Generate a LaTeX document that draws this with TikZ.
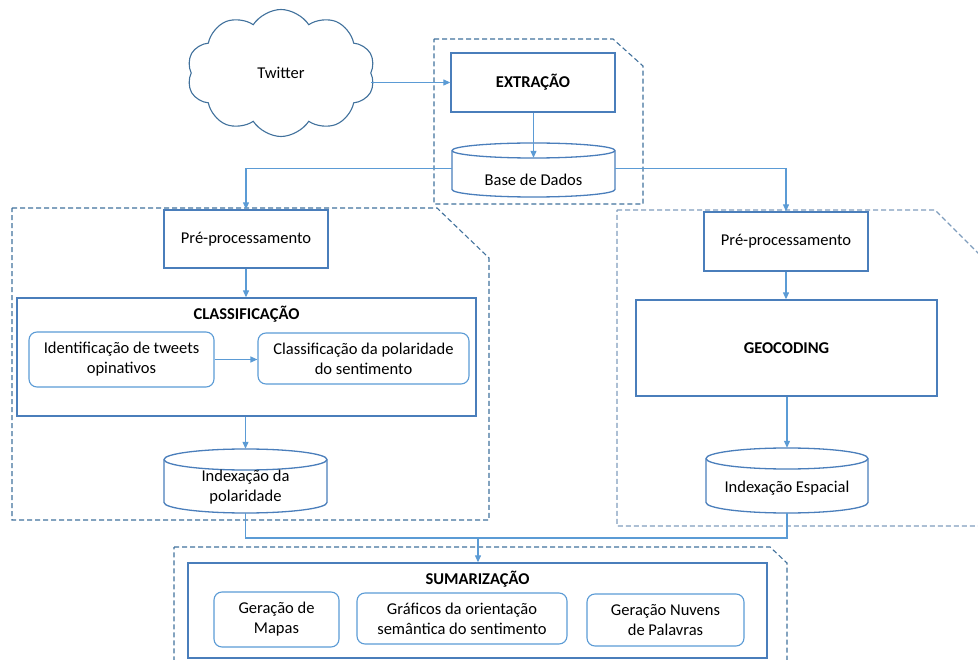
\documentclass[tikz,border=0pt]{standalone}
\usepackage{fontspec}
\setmainfont{Carlito}
\usetikzlibrary{shapes.symbols,arrows.meta}
\definecolor{boxc}{HTML}{4A7EBB}
\definecolor{arrc}{HTML}{5B9BD5}
\definecolor{dashc}{HTML}{41719C}
\definecolor{dashr}{HTML}{7F9DBD}
\definecolor{cloudc}{HTML}{41719C}
\tikzset{
 every node/.style={font=\fontsize{16.5}{20}\selectfont},
 box/.style={draw=boxc, line width=1.3pt, inner sep=0pt, align=center},
 rbox/.style={draw=arrc, line width=1.1pt, rounded corners=8pt, inner sep=0pt, align=center},
 arr/.style={draw=arrc, line width=1.1pt, -{Triangle[length=7pt,width=6pt]}},
 ln/.style={draw=arrc, line width=1.1pt},
 grp/.style={draw=dashc, line width=1.1pt, dash pattern=on 5pt off 3pt},
 cyl/.style={draw=boxc, line width=1.3pt},
}
\newcommand{\mybox}[7]{\node[#2, minimum width={(#5)-(#3)}, minimum height={(#6)-(#4)}] (#1) at ({((#3)+(#5))/2},{-((#4)+(#6))/2}) {#7};}
\newcommand{\mycyl}[8]{%
 \draw[cyl, fill=white] (#2,{-((#4)+(#6))}) -- (#2,{-((#5)-(#6))}) arc[start angle=180,end angle=360,x radius={((#3)-(#2))/2},y radius=#6] -- (#3,{-((#4)+(#6))}) arc[start angle=0,end angle=180,x radius={((#3)-(#2))/2},y radius=#6] -- cycle;
 \draw[cyl] (#2,{-((#4)+(#6))}) arc[start angle=180,end angle=360,x radius={((#3)-(#2))/2},y radius=#6];
 \node[inner sep=0pt, minimum width={(#3)-(#2)}, minimum height={(#5)-(#4)}] (#1) at ({((#2)+(#3))/2},{-((#4)+(#5))/2}) {};
 \node[align=center] (#1t) at ({((#2)+(#3))/2},{-(#7)}) {#8};}
\begin{document}
\begin{tikzpicture}[x=1pt,y=1pt]
\useasboundingbox (0,0) rectangle (978,-660);
\clip (0,0) rectangle (978,-660);
% dashed groups
\draw[grp] (434,-39) -- (613,-39) -- (643,-66) -- (643,-204) -- (434,-204) -- cycle;
\draw[grp] (12,-208) -- (437,-208) -- (489,-258) -- (489,-520) -- (12,-520) -- cycle;
\draw[grp, draw=dashr] (617,-210) -- (935,-210) -- (990,-265) -- (990,-526) -- (617,-526) -- cycle;
\draw[grp] (174,-547) -- (770,-547) -- (787,-563) -- (787,-680) -- (174,-680) -- cycle;
% cloud
\node[cloud, cloud puffs=10, cloud puff arc=115, aspect=1.45, draw=cloudc, line width=1.1pt, minimum width=188pt, minimum height=127pt, inner sep=0pt] (tw) at (281,-73) {Twitter};
% extraction
\mybox{ext}{box}{451}{53}{615}{112}{\bfseries EXTRAÇÃO}
\mycyl{bd}{452}{615}{143}{197}{7.5}{180}{Base de Dados}
% left branch
\mybox{preL}{box}{164}{210}{328}{268}{Pré-processamento}
\mybox{cls}{box}{17}{298}{476}{416}{}
\node (clst) at (246.5,-314) {\bfseries CLASSIFICAÇÃO};
\mybox{i1}{rbox}{29}{332}{214}{387}{Identificação de tweets\\opinativos}
\mybox{i2}{rbox}{258}{333}{469}{384}{Classificação da polaridade\\do sentimento}
\mycyl{cylL}{164}{327}{449}{513}{10.5}{487.5}{Indexação da\\polaridade}
% right branch
\mybox{preR}{box}{704}{212}{868}{271}{Pré-processamento}
\mybox{geo}{box}{636}{300}{937}{396}{\bfseries GEOCODING}
\mycyl{cylR}{706}{868}{448}{513}{10.5}{488}{Indexação Espacial}
% summarization
\mybox{sum}{box}{188}{563}{767}{658}{}
\node (sumt) at (477.5,-579) {\bfseries SUMARIZAÇÃO};
\mybox{s1}{rbox}{214}{592}{339}{647}{Geração de\\Mapas}
\mybox{s2}{rbox}{357}{593}{567}{644}{Gráficos da orientação\\semântica do sentimento}
\mybox{s3}{rbox}{587}{594}{744}{646}{Geração Nuvens\\de Palavras}
% connectors
\draw[arr] (tw.east |- ext.west) -- (ext.west);
\draw[arr] (ext.south -| bd.north) -- ([yshift=-15pt]bd.north);
\draw[arr] ([yshift=-26pt]bd.north west) -| (preL.north);
\draw[arr] ([yshift=-26pt]bd.north east) -| (preR.north);
\draw[arr] (preL.south) -- (preL.south |- cls.north);
\draw[arr] (i1.east) -- (i1.east -| i2.west);
\draw[arr] (cls.south -| cylL.north) -- (cylL.north);
\draw[arr] (preR.south) -- (preR.south |- geo.north);
\draw[arr] (geo.south -| cylR.north) -- (cylR.north);
\coordinate (j) at (478,-538);
\draw[ln] (cylL.south) |- (j) -| (cylR.south);
\draw[arr] (j) -- (j |- sum.north);
\end{tikzpicture}
\end{document}
